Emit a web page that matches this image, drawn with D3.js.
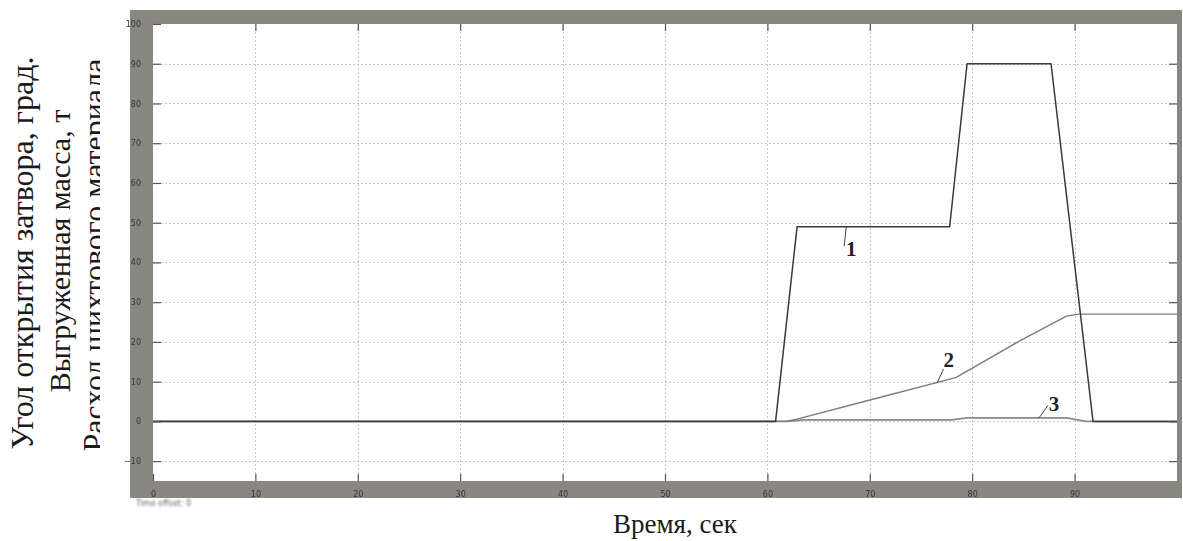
<!DOCTYPE html>
<html>
<head>
<meta charset="utf-8">
<script src="https://cdn.jsdelivr.net/npm/d3@7"></script>
<style>
  html, body { margin: 0; padding: 0; background: #fff; }
  svg { display: block; }
</style>
</head>
<body>
<svg id="chart" width="1183" height="541"></svg>
<script>
// Time axis, seconds
const xTicks = [0, 10, 20, 30, 40, 50, 60, 70, 80, 90, 100];
const yTicks = [-10, 0, 10, 20, 30, 40, 50, 60, 70, 80, 90, 100];

// 1 — gate opening angle, deg
const gateTime  = [0, 60.8, 62.9, 77.8, 79.5, 87.7, 91.8, 100];
const gateAngle = [0, 0, 49, 49, 90, 90, 0, 0];

// 2 — unloaded mass, t
const massTime  = [0, 61.7, 62.8, 70.2, 78.4, 84.6, 89.2, 90.4, 100];
const massValue = [0, 0, 0.5, 5.5, 11, 20.2, 26.5, 27, 27];

// 3 — charge material flow
const flowTime  = [0, 62, 63.5, 78, 79.5, 89.2, 91.1, 100];
const flowValue = [0, 0, 0.4, 0.4, 0.9, 0.9, 0, 0];

// Curve numbers with leader lines: [text t, text v, leader t0, v0, t1, v1]
const curveLabels = ["1", "2", "3"];
const labelPos = [
  [68.2, 41.6, 67.7, 48.9, 67.5, 44.1],
  [77.7, 13.6, 76.6, 9.8, 77.2, 13.2],
  [88.0, 2.5, 86.5, 0.8, 87.4, 4.0]
];

const yTitles = [
  "Угол открытия затвора, град.",
  "Выгруженная масса, т",
  "Расход шихтового материала"
];
const xTitle = "Время, сек";

const svg = d3.select("#chart");

const defs = svg.append("defs");
defs.append("filter").attr("id", "soft")
  .append("feGaussianBlur").attr("stdDeviation", 0.55);
defs.append("filter").attr("id", "softer")
  .append("feGaussianBlur").attr("stdDeviation", 0.8);

// Vertical axis titles (last line runs under the scope window edge)
const titleBase = [33, 70, 105];
const titleMid = [253, 251, 255];
const titleSize = [32, 30, 32];
yTitles.forEach((t, i) => {
  svg.append("text")
    .attr("transform", `translate(${titleBase[i]},${titleMid[i]}) rotate(-90)`)
    .attr("text-anchor", "middle")
    .attr("font-family", "Liberation Serif, Times New Roman, serif")
    .attr("font-size", titleSize[i])
    .attr("fill", "#1a1a1a")
    .text(t);
});
// white scope window background
svg.append("rect").attr("x", 100).attr("y", 0).attr("width", 1083).attr("height", 541)
  .attr("fill", "#fff");

// Scope frame
const frame = { left: 130, top: 10, right: 1182, bottom: 498 };
svg.append("rect")
  .attr("x", frame.left).attr("y", frame.top)
  .attr("width", frame.right - frame.left).attr("height", frame.bottom - frame.top)
  .attr("fill", "#898880");

const x = d3.scaleLinear().domain([0, 100]).range([153, 1177]);
const y = d3.scaleLinear().domain([-15, 100]).range([481, 24]);

svg.append("rect")
  .attr("x", x(0)).attr("y", y(100))
  .attr("width", x(100) - x(0)).attr("height", y(-15) - y(100))
  .attr("fill", "#fff");

const plot = svg.append("g");

// Grid
const grid = plot.append("g").attr("stroke", "#c8c8c8").attr("stroke-width", 1)
  .attr("stroke-dasharray", "2,2");
grid.selectAll("line.h").data(yTicks.filter(v => v < 100)).join("line")
  .attr("x1", x(0)).attr("x2", x(100))
  .attr("y1", d => Math.round(y(d)) + 0.5).attr("y2", d => Math.round(y(d)) + 0.5);
grid.selectAll("line.v").data(xTicks.filter(v => v > 0 && v < 100)).join("line")
  .attr("class", "v")
  .attr("y1", y(100)).attr("y2", y(-15))
  .attr("x1", d => Math.round(x(d)) + 0.5).attr("x2", d => Math.round(x(d)) + 0.5);

// Axes with inward ticks
const axisStyle = g => {
  g.select(".domain").remove();
  g.selectAll(".tick line").attr("stroke", "#555").attr("stroke-width", 1.2);
  g.selectAll(".tick text")
    .attr("font-family", "DejaVu Sans, sans-serif")
    .attr("font-size", 8)
    .attr("fill", "#333")
    .attr("filter", "url(#soft)");
};
svg.append("g").attr("transform", `translate(0,${y(-15)})`)
  .call(d3.axisBottom(x).tickValues(xTicks.slice(0, 10)).tickSize(-7).tickPadding(10).tickFormat(d3.format("d")))
  .call(axisStyle);
svg.append("g").attr("transform", `translate(0,${y(100)})`)
  .call(d3.axisTop(x).tickValues(xTicks.slice(1, 10)).tickSize(-7).tickFormat(""))
  .call(axisStyle);
svg.append("g").attr("transform", `translate(${x(0)},0)`)
  .call(d3.axisLeft(y).tickValues(yTicks).tickSize(-8).tickPadding(12).tickFormat(d3.format("d")))
  .call(axisStyle);
svg.append("g").attr("transform", `translate(${x(100)},0)`)
  .call(d3.axisRight(y).tickValues(yTicks.slice(0, 11)).tickSize(-8).tickFormat(""))
  .call(axisStyle);

// Curves
const line = d3.line().x(d => x(d[0])).y(d => y(d[1]));
const series = [
  { t: flowTime, v: flowValue, color: "#8a8a8a", w: 1.8 },
  { t: massTime, v: massValue, color: "#7d7d7d", w: 1.4 },
  { t: gateTime, v: gateAngle, color: "#3a3a3a", w: 1.5 }
];
series.forEach(s => {
  plot.append("path")
    .datum(d3.zip(s.t, s.v))
    .attr("fill", "none")
    .attr("stroke", s.color)
    .attr("stroke-width", s.w)
    .attr("stroke-linejoin", "round")
    .attr("d", line);
});

// Curve numbers
labelPos.forEach((p, i) => {
  plot.append("line")
    .attr("x1", x(p[2])).attr("y1", y(p[3]))
    .attr("x2", x(p[4])).attr("y2", y(p[5]))
    .attr("stroke", "#444").attr("stroke-width", 1);
  plot.append("text")
    .attr("x", x(p[0])).attr("y", y(p[1]))
    .attr("text-anchor", "middle")
    .attr("font-family", "Liberation Serif, Times New Roman, serif")
    .attr("font-weight", "bold")
    .attr("font-size", 21)
    .attr("fill", "#222")
    .text(curveLabels[i]);
});

// Scope footer
svg.append("text")
  .attr("x", 136).attr("y", 506)
  .attr("font-family", "DejaVu Sans, sans-serif")
  .attr("font-size", 8)
  .attr("fill", "#666")
  .attr("filter", "url(#softer)")
  .text("Time offset: 0");

// Horizontal axis title
svg.append("text")
  .attr("x", 675).attr("y", 533)
  .attr("text-anchor", "middle")
  .attr("font-family", "Liberation Serif, Times New Roman, serif")
  .attr("font-size", 27)
  .attr("fill", "#1a1a1a")
  .text(xTitle);
</script>
</body>
</html>
